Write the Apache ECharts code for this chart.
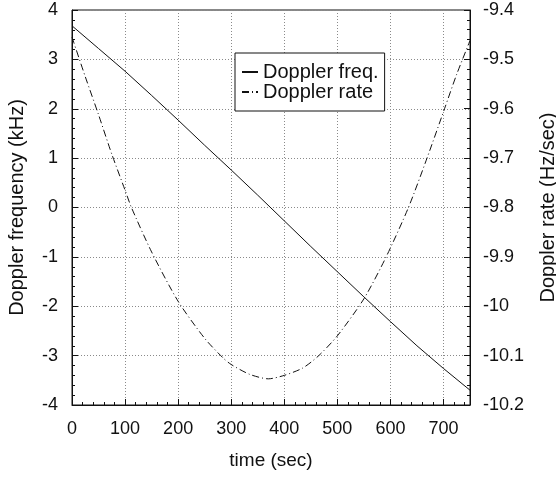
<!DOCTYPE html>
<html>
<head>
<meta charset="utf-8">
<script src="https://cdn.jsdelivr.net/npm/echarts@6/dist/echarts.min.js"></script>
<style>
  html, body { margin: 0; padding: 0; background: #fff; }
  #chart { width: 556px; height: 478px; }
</style>
</head>
<body>
<div id="chart"></div>
<script>
// values
const freqTime = [0, 50, 100, 150, 200, 250, 300, 350, 400, 450, 500, 550, 600, 650, 700, 750];
const freqKHz = [3.68, 3.22, 2.76, 2.27, 1.77, 1.26, 0.76, 0.25, -0.27, -0.79, -1.30, -1.81, -2.31, -2.80, -3.26, -3.70];

const rateTime = [0, 25, 50, 75, 100, 112, 150, 200, 250, 285, 300, 335, 370, 400, 435, 465, 500, 550, 592, 634, 669, 702, 725, 750];
const rateHz = [-9.455, -9.535, -9.612, -9.692, -9.765, -9.80, -9.89, -9.99, -10.065, -10.105, -10.118, -10.138, -10.147, -10.14, -10.125, -10.10, -10.06, -9.985, -9.90, -9.80, -9.70, -9.60, -9.53, -9.462];

const seriesNames = ['Doppler freq.', 'Doppler rate'];

const FONT = 'Liberation Sans, Arial, Helvetica, sans-serif';
const INK = '#111';
const gridLine = { show: true, lineStyle: { color: '#8a8a8a', type: [1, 2], width: 1 } };

const chart = echarts.init(document.getElementById('chart'), null, { renderer: 'canvas' });

chart.setOption({
  animation: false,
  backgroundColor: '#fff',
  textStyle: { fontFamily: FONT, color: INK },
  grid: {
    left: 72, top: 10, right: 86, bottom: 73,
    outerBoundsMode: 'none', containLabel: false,
    show: true, borderColor: INK, borderWidth: 1
  },
  legend: {
    left: 235, top: 53,
    orient: 'vertical',
    data: seriesNames,
    backgroundColor: '#fff',
    borderColor: INK, borderWidth: 1,
    padding: [9, 6, 9, 6],
    itemWidth: 16, itemHeight: 14, itemGap: 0,
    itemStyle: { opacity: 0 },
    textStyle: { fontFamily: FONT, fontSize: 20, lineHeight: 20, color: INK }
  },
  xAxis: {
    type: 'value', min: 0, max: 750, interval: 100,
    name: 'time (sec)', nameLocation: 'middle', nameGap: 46,
    nameTextStyle: { fontSize: 19, color: INK },
    axisLine: { show: true, onZero: false, lineStyle: { color: INK } },
    axisTick: { inside: true, length: 6, lineStyle: { color: INK } },
    minorTick: { show: true, splitNumber: 5, length: 3, lineStyle: { color: INK } },
    axisLabel: { fontSize: 18, color: INK, margin: 15, showMaxLabel: false },
    splitLine: gridLine
  },
  yAxis: [{
    type: 'value', min: -4, max: 4, interval: 1,
    name: 'Doppler frequency (kHz)', nameLocation: 'middle', nameGap: 45, nameRotate: 90,
    nameTextStyle: { fontSize: 20, color: INK },
    axisLine: { show: true, lineStyle: { color: INK } },
    axisTick: { inside: true, length: 6, lineStyle: { color: INK } },
    minorTick: { show: true, splitNumber: 5, length: 3, lineStyle: { color: INK } },
    axisLabel: { fontSize: 18, color: INK, margin: 14 },
    splitLine: gridLine
  }, {
    type: 'value', position: 'right', min: -10.2, max: -9.4, interval: 0.1,
    name: 'Doppler rate (Hz/sec)', nameLocation: 'middle', nameGap: 68, nameRotate: 90,
    nameTextStyle: { fontSize: 20, color: INK },
    axisLine: { show: true, lineStyle: { color: INK } },
    axisTick: { inside: true, length: 6, lineStyle: { color: INK } },
    minorTick: { show: true, splitNumber: 5, length: 3, lineStyle: { color: INK } },
    axisLabel: {
      fontSize: 18, color: INK, margin: 13,
      formatter: v => String(Math.round(v * 10) / 10)
    },
    splitLine: { show: false }
  }],
  series: [{
    name: seriesNames[0],
    type: 'line', yAxisIndex: 0,
    data: freqTime.map((t, i) => [t, freqKHz[i]]),
    symbol: 'none', smooth: false,
    lineStyle: { color: INK, width: 1 },
    itemStyle: { color: INK }
  }, {
    name: seriesNames[1],
    type: 'line', yAxisIndex: 1,
    data: rateTime.map((t, i) => [t, rateHz[i]]),
    symbol: 'none', smooth: 0.25,
    lineStyle: { color: INK, width: 1, type: [7, 3, 1, 3] },
    itemStyle: { color: INK }
  }]
});
</script>
</body>
</html>
